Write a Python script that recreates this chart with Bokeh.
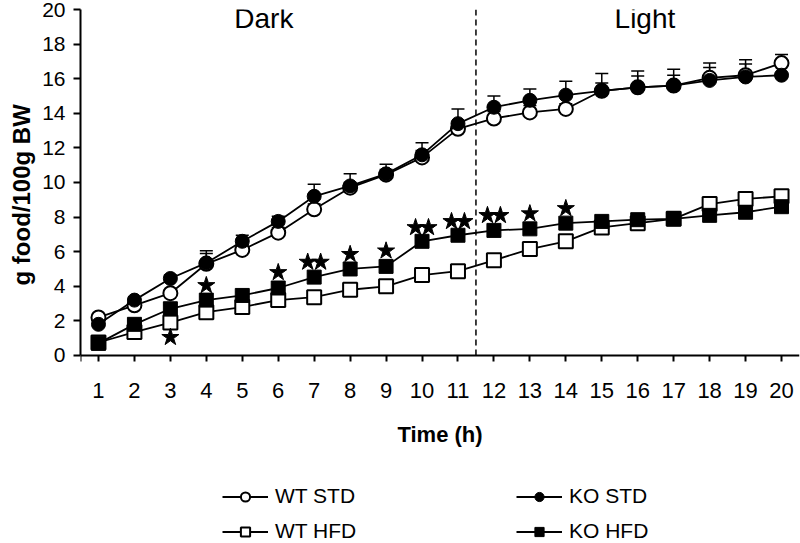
from bokeh.plotting import figure
from bokeh.models import (Range1d, FixedTicker, Whisker, ColumnDataSource,
                          Legend, LegendItem, TeeHead, Title)
from bokeh.transform import dodge
from bokeh.core.properties import value
from bokeh.embed import file_html
from bokeh.resources import INLINE

# ---------------- data ----------------
hours = list(range(1, 21))
wt_std = [2.2, 2.9, 3.6, 5.3, 6.1, 7.1, 8.45, 9.7, 10.45, 11.45, 13.1, 13.7, 14.05, 14.25, 15.3, 15.5, 15.6, 16.05, 16.2, 16.9]
wt_std_err = [0.2, 0.2, 0.2, 0.6, 0.3, 0.3, 0.3, 0.3, 0.3, 0.4, 0.4, 0.4, 0.4, 0.3, 0.45, 0.65, 0.6, 0.85, 0.9, 0.5]
ko_std = [1.8, 3.2, 4.45, 5.35, 6.6, 7.75, 9.2, 9.8, 10.5, 11.6, 13.4, 14.35, 14.75, 15.05, 15.3, 15.5, 15.6, 15.9, 16.1, 16.2]
ko_std_err = [0.2, 0.2, 0.2, 0.7, 0.35, 0.3, 0.7, 0.7, 0.55, 0.7, 0.85, 0.65, 0.65, 0.8, 1.0, 0.95, 0.95, 0.75, 0.75, 0.9]
wt_hfd = [0.75, 1.35, 1.9, 2.5, 2.8, 3.2, 3.37, 3.8, 4.0, 4.65, 4.87, 5.5, 6.15, 6.6, 7.4, 7.65, 7.9, 8.75, 9.05, 9.2]
wt_hfd_err = [0.2, 0.2, 0.2, 0.2, 0.2, 0.2, 0.2, 0.2, 0.2, 0.3, 0.3, 0.2, 0.2, 0.2, 0.2, 0.2, 0.2, 0.2, 0.2, 0.2]
ko_hfd = [0.7, 1.8, 2.7, 3.2, 3.47, 3.9, 4.53, 5.0, 5.15, 6.6, 6.95, 7.23, 7.32, 7.65, 7.75, 7.85, 7.9, 8.1, 8.28, 8.6]
ko_hfd_err = [0.2, 0.2, 0.2, 0.2, 0.2, 0.2, 0.2, 0.2, 0.2, 0.2, 0.2, 0.2, 0.2, 0.2, 0.2, 0.2, 0.2, 0.2, 0.2, 0.2]

# significance stars
star1_x = [3, 4, 6, 8, 9, 13, 14]
star1_y = [1.05, 4.05, 4.8, 5.85, 6.05, 8.2, 8.5]
star2_x = [7, 10, 11, 12]
star2_y = [5.4, 7.4, 7.75, 8.1]

# phase labels
phase_text = ["Dark", "Light"]
phase_x = [5.6, 16.2]
phase_y = [19.5, 19.5]
phase_boundary = 11.5

y_ticks = [0, 2, 4, 6, 8, 10, 12, 14, 16, 18, 20]
y_min, y_max = 0, 20
y_view_start = -10.87   # room below the x axis for axis labels and legend

FONT = "Liberation Sans"

p = figure(width=800, height=543, x_range=Range1d(0.5, 20.5), y_range=Range1d(y_view_start, y_max),
           output_backend="svg", toolbar_location=None,
           min_border_left=79, min_border_right=1, min_border_top=9, min_border_bottom=0)
p.outline_line_color = None
p.grid.visible = False
p.background_fill_color = "white"
p.border_fill_color = "white"

# axes
p.xaxis.fixed_location = 0
p.xaxis.ticker = FixedTicker(ticks=[0.5] + hours)
p.xaxis.major_label_overrides = {0.5: ""}
p.yaxis.ticker = FixedTicker(ticks=y_ticks)
p.yaxis.bounds = (y_min, y_max)
for ax in (p.xaxis[0], p.yaxis[0]):
    ax.axis_line_color = "black"
    ax.axis_line_width = 2
    ax.major_tick_line_color = "black"
    ax.major_tick_line_width = 2
    ax.major_tick_in = 0
    ax.minor_tick_line_color = None
    ax.major_label_text_font = FONT
    ax.major_label_text_color = "black"
    ax.axis_label_text_font = FONT
    ax.axis_label_text_font_style = "bold"
    ax.axis_label_text_color = "black"
p.xaxis.major_tick_out = 6
p.yaxis.major_tick_out = 7
p.xaxis.major_label_text_font_size = "22px"
p.yaxis.major_label_text_font_size = "21px"
p.xaxis.major_label_standoff = 22
p.yaxis.major_label_standoff = 8
p.xaxis.axis_label = "Time (h)"
p.xaxis.axis_label_text_font_size = "22px"
p.xaxis.axis_label_standoff = 20

# y axis title, placed along the 0-20 span of the axis
p.add_layout(Title(text="g food/100g BW", align="left", offset=258, standoff=10,
                   text_font=FONT, text_font_size="24px", text_font_style="bold",
                   text_color="black"), "left")

# dashed light/dark boundary
p.segment(x0=[phase_boundary], y0=[y_min], x1=[phase_boundary], y1=[y_max],
          line_color="black", line_width=1.5, line_dash="6 4")

# error bars
def add_err(vals, errs):
    src = ColumnDataSource(dict(x=hours, y=vals, upper=[v + e for v, e in zip(vals, errs)]))
    w = Whisker(base="x", lower="y", upper="upper", source=src, dimension="height",
                line_color="black", line_width=1.5, lower_head=None,
                upper_head=TeeHead(size=13, line_color="black", line_width=1.5),
                level="underlay")
    p.add_layout(w)

add_err(wt_std, wt_std_err)
add_err(ko_std, ko_std_err)
add_err(wt_hfd, wt_hfd_err)
add_err(ko_hfd, ko_hfd_err)

LW = 1.8
l_wt_std = p.line(hours, wt_std, line_color="black", line_width=LW)
s_wt_std = p.scatter(hours, wt_std, marker="circle", size=14, fill_color="white", line_color="black", line_width=2)
l_wt_hfd = p.line(hours, wt_hfd, line_color="black", line_width=LW)
s_wt_hfd = p.scatter(hours, wt_hfd, marker="square", size=14, fill_color="white", line_color="black", line_width=2)
l_ko_std = p.line(hours, ko_std, line_color="black", line_width=LW)
s_ko_std = p.scatter(hours, ko_std, marker="circle", size=14, fill_color="black", line_color="black", line_width=1)
l_ko_hfd = p.line(hours, ko_hfd, line_color="black", line_width=LW)
s_ko_hfd = p.scatter(hours, ko_hfd, marker="square", size=14, fill_color="black", line_color="black", line_width=1)

# stars
p.scatter(star1_x, star1_y, marker="star", size=18, fill_color="black", line_color="black")
src2 = ColumnDataSource(dict(x=star2_x, y=star2_y))
p.scatter(x=dodge("x", -0.18, range=p.x_range), y="y", source=src2, marker="star", size=18,
          fill_color="black", line_color="black")
p.scatter(x=dodge("x", 0.18, range=p.x_range), y="y", source=src2, marker="star", size=18,
          fill_color="black", line_color="black")

# phase labels
p.text(phase_x, phase_y, text=phase_text, text_font=value(FONT), text_font_size="28px",
       text_align="center", text_baseline="alphabetic", text_color="black")

legend = Legend(items=[
    LegendItem(label="WT STD", renderers=[l_wt_std, s_wt_std]),
    LegendItem(label="KO STD", renderers=[l_ko_std, s_ko_std]),
    LegendItem(label="WT HFD", renderers=[l_wt_hfd, s_wt_hfd]),
    LegendItem(label="KO HFD", renderers=[l_ko_hfd, s_ko_hfd]),
], location=(142, 0), orientation="horizontal", ncols=2,
    glyph_width=46, glyph_height=23, label_standoff=7, label_width=230, spacing=11,
    padding=0, margin=0, border_line_color=None, background_fill_alpha=0,
    label_text_font=FONT, label_text_font_size="21px", label_text_color="black")
p.add_layout(legend, "center")

open("out.html", "w").write(file_html(p, INLINE))
